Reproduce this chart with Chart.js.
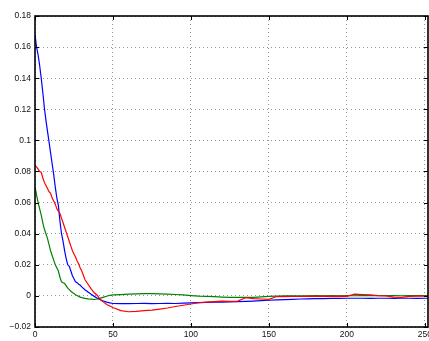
<!DOCTYPE html>
<html>
<head>
<meta charset="utf-8">
<script src="https://cdn.jsdelivr.net/npm/chart.js@4"></script>
<style>
  html, body { margin: 0; padding: 0; background: #fff; }
  #wrap { width: 429px; height: 341px; }
</style>
</head>
<body>
<div id="wrap"><canvas id="chart" width="429" height="341"></canvas></div>
<script>
// sample positions (shared by all three curves)
const xs = [0,1,2,3,4,5,6,7,8,9,10,11,12,13,14,15,16,17,18,19,20,21,22,23,24,25,26,27,28,29,30,
  32,34,36,38,40,42,44,46,48,50,55,60,65,70,75,80,85,90,95,100,105,110,115,120,125,130,135,140,
  145,150,155,160,165,170,175,180,185,190,195,200,205,210,215,220,225,230,235,240,245,250,252];

const blueY = [0.168,0.160,0.155,0.148,0.140,0.131,0.121,0.113,0.106,0.099,0.092,0.085,0.078,0.070,0.063,0.058,
  0.048,0.040,0.035,0.029,0.024,0.020,0.019,0.016,0.013,0.011,0.009,0.0085,0.0075,0.0068,0.0058,
  0.0040,0.0025,0.0010,-0.0003,-0.0015,-0.0025,-0.0033,-0.0040,-0.0045,-0.0049,-0.0050,-0.0050,-0.0049,
  -0.0048,-0.0050,-0.0049,-0.0048,-0.0049,-0.0047,-0.0045,-0.0043,-0.0042,-0.0040,-0.0040,-0.0038,-0.0037,
  -0.0035,-0.0033,-0.0031,-0.0028,-0.0026,-0.0024,-0.0022,-0.0020,-0.0019,-0.0018,-0.0017,-0.0016,-0.0016,
  -0.0015,-0.0015,-0.0015,-0.0016,-0.0015,-0.0015,-0.0016,-0.0015,-0.0015,-0.0016,-0.0015,-0.0015];

const redY = [0.0837,0.083,0.0815,0.080,0.0795,0.076,0.073,0.071,0.069,0.067,0.066,0.063,0.061,0.059,0.056,0.0545,
  0.053,0.050,0.047,0.044,0.041,0.038,0.035,0.032,0.029,0.027,0.025,0.0225,0.0205,0.018,0.016,
  0.0105,0.0075,0.0045,0.0020,0.0003,-0.0025,-0.0040,-0.0055,-0.0065,-0.0075,-0.0095,-0.0102,-0.0100,
  -0.0095,-0.0092,-0.0085,-0.0078,-0.0068,-0.0060,-0.0052,-0.0044,-0.0040,-0.0037,-0.0034,-0.0035,-0.0033,
  -0.0012,-0.0018,-0.0020,-0.0022,-0.0004,-0.0005,-0.0003,-0.0004,-0.0002,-0.0003,-0.0001,-0.0003,-0.0002,
  -0.0003,0.0011,0.0009,0.0006,0.0002,0.0000,-0.0008,-0.0010,-0.0003,-0.0002,-0.0001,0.0000];

const greenY = [0.070,0.065,0.060,0.056,0.052,0.047,0.043,0.040,0.037,0.033,0.029,0.026,0.023,0.020,0.018,0.016,
  0.012,0.009,0.0085,0.008,0.0065,0.005,0.004,0.003,0.0022,0.0015,0.0008,0.0002,-0.0003,-0.0008,-0.0011,
  -0.0016,-0.0019,-0.0021,-0.0023,-0.0020,-0.0014,-0.0008,-0.0002,0.0004,0.0006,0.0008,0.0011,0.0013,
  0.0015,0.0015,0.0013,0.0011,0.0009,0.0006,0.0002,-0.0002,-0.0003,-0.0005,-0.0008,-0.0010,-0.0010,
  -0.0010,-0.0009,-0.0006,-0.0003,-0.0002,0.0000,0.0001,0.0000,0.0001,0.0002,0.0001,0.0002,0.0001,
  0.0002,0.0001,0.0002,0.0002,0.0001,0.0002,0.0002,0.0001,0.0002,0.0002,0.0002,0.0002];

const xTicks = [0, 50, 100, 150, 200, 250];
const yTicks = [-0.02, 0, 0.02, 0.04, 0.06, 0.08, 0.1, 0.12, 0.14, 0.16, 0.18];

function pts(ys) {
  return xs.map((x, i) => ({ x: x, y: ys[i] }));
}

// black frame with inward ticks, matlab style
const frame = {
  id: 'frame',
  afterDraw(chart) {
    const ctx = chart.ctx;
    const a = chart.chartArea;
    const sx = chart.scales.x, sy = chart.scales.y;
    ctx.save();
    ctx.strokeStyle = '#000';
    ctx.lineWidth = 1.6;
    ctx.strokeRect(a.left, a.top, a.right - a.left, a.bottom - a.top);
    ctx.lineWidth = 1;
    ctx.beginPath();
    xTicks.forEach(v => {
      const p = Math.round(sx.getPixelForValue(v)) + 0.5;
      ctx.moveTo(p, a.bottom); ctx.lineTo(p, a.bottom - 4);
      ctx.moveTo(p, a.top); ctx.lineTo(p, a.top + 4);
    });
    yTicks.forEach(v => {
      const p = Math.round(sy.getPixelForValue(v)) + 0.5;
      ctx.moveTo(a.left, p); ctx.lineTo(a.left + 4, p);
      ctx.moveTo(a.right, p); ctx.lineTo(a.right - 4, p);
    });
    ctx.stroke();
    ctx.restore();
  }
};

const tickFont = { family: 'Liberation Sans, Arial, sans-serif', size: 8.5 };

new Chart(document.getElementById('chart'), {
  type: 'line',
  data: {
    datasets: [
      { data: pts(redY), borderColor: '#ff0000' },
      { data: pts(blueY), borderColor: '#0000ff' },
      { data: pts(greenY), borderColor: '#008000' }
    ]
  },
  options: {
    responsive: false,
    animation: false,
    layout: { padding: { top: 16, right: 1, left: 0, bottom: 0 } },
    elements: {
      point: { radius: 0 },
      line: { borderWidth: 1.2, tension: 0 }
    },
    plugins: { legend: { display: false }, tooltip: { enabled: false } },
    scales: {
      x: {
        type: 'linear',
        min: 0,
        max: 252,
        afterBuildTicks: s => { s.ticks = xTicks.map(v => ({ value: v })); },
        afterFit: s => { s.height = 14; s.paddingLeft = 0; s.paddingRight = 0; },
        grid: { color: '#999', drawTicks: false, lineWidth: 1 },
        border: { display: false, dash: [1, 3] },
        ticks: { color: '#111', font: tickFont, padding: 3, maxRotation: 0 }
      },
      y: {
        type: 'linear',
        min: -0.02,
        max: 0.18,
        afterBuildTicks: s => { s.ticks = yTicks.map(v => ({ value: v })); },
        afterFit: s => { s.width = 35; s.paddingTop = 0; s.paddingBottom = 0; },
        grid: { color: '#999', drawTicks: false, lineWidth: 1 },
        border: { display: false, dash: [1, 3] },
        ticks: {
          color: '#111', font: tickFont, padding: 4,
          callback: v => (v < 0 ? '\u2212' + String(Math.abs(+v.toFixed(2))) : String(+v.toFixed(2)))
        }
      }
    }
  },
  plugins: [frame]
});
</script>
</body>
</html>
